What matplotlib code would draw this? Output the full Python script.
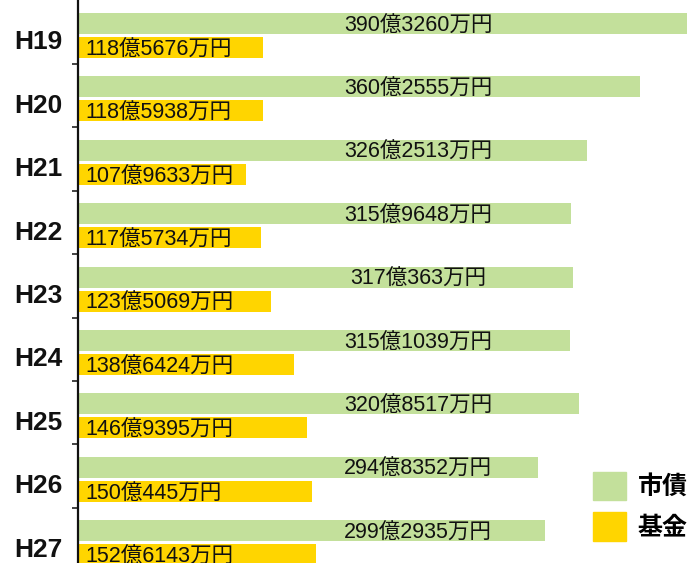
import numpy as np
import matplotlib.pyplot as plt
from matplotlib.patches import Patch

plt.rcParams['font.family'] = ['Liberation Sans', 'Noto Sans CJK JP', 'DejaVu Sans']

years = ['H19', 'H20', 'H21', 'H22', 'H23', 'H24', 'H25', 'H26', 'H27']
# values in 億円
shisai = [390.3260, 360.2555, 326.2513, 315.9648, 317.0363, 315.1039, 320.8517, 294.8352, 299.2935]
kikin = [118.5676, 118.5938, 107.9633, 117.5734, 123.5069, 138.6424, 146.9395, 150.0445, 152.6143]
shisai_lbl = ['390億3260万円', '360億2555万円', '326億2513万円', '315億9648万円', '317億363万円',
              '315億1039万円', '320億8517万円', '294億8352万円', '299億2935万円']
kikin_lbl = ['118億5676万円', '118億5938万円', '107億9633万円', '117億5734万円', '123億5069万円',
             '138億6424万円', '146億9395万円', '150億445万円', '152億6143万円']

green = '#c3e09b'
yellow = '#ffd500'

fig = plt.figure(figsize=(6.9, 5.63), dpi=100)
ax = fig.add_axes([0.113, 0.0, 0.887, 1.0])

y = np.arange(len(years))
h = 0.33
off = 0.19
ax.barh(y - off, shisai, height=h, color=green)
ax.barh(y + off, kikin, height=h, color=yellow)

for i in range(len(years)):
    ax.text(218, y[i] - off + 0.04, shisai_lbl[i], ha='center', va='center',
            fontsize=15.5, color='#111111')
    ax.text(4.5, y[i] + off + 0.04, kikin_lbl[i], ha='left', va='center',
            fontsize=15.5, color='#111111')

ax.set_xlim(0, 392.3)
ax.set_ylim(8.32, -0.56)

ax.set_yticks(y + 0.07)
ax.set_yticklabels(years, fontsize=19, fontweight='bold', color='#111111')
ax.tick_params(axis='y', which='major', length=0, pad=11)
ax.set_yticks(y[:-1] + 0.45, minor=True)
ax.tick_params(axis='y', which='minor', length=4, width=1.2, color='#222222')
ax.set_xticks([])

for s in ['top', 'right', 'bottom']:
    ax.spines[s].set_visible(False)
ax.spines['left'].set_linewidth(1.6)
ax.spines['left'].set_color('#111111')

handles = [Patch(color=green), Patch(color=yellow)]
leg = ax.legend(handles, ['市債', '基金'], loc='lower right', bbox_to_anchor=(1.033, 0.0),
                frameon=False, handlelength=1.35, handleheight=1.35, handletextpad=0.45,
                labelspacing=0.5, prop={'size': 18, 'weight': 'bold'})

fig.savefig('out.png', dpi=100)
